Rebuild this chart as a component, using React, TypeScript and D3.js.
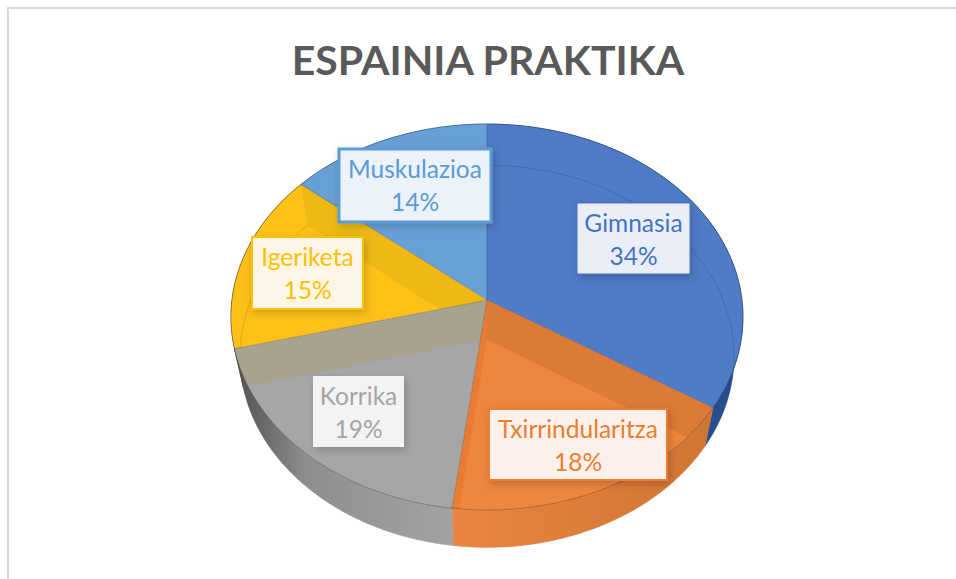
import React from "react";
import * as d3 from "d3";

const categories = ["Gimnasia", "Txirrindularitza", "Korrika", "Igeriketa", "Muskulazioa"];
const values = [34, 18, 19, 15, 14];
const faceColors = ["#507BC6", "#EE863E", "#A6A6A6", "#FDC118", "#67A0D7"];
const textColors = ["#4472C4", "#ED7D31", "#A5A5A5", "#FFC000", "#5B9BD5"];
const boxFills = ["#EAEFF7", "#FBF1EA", "#F3F3F3", "#FDF5E6", "#EBF2F9"];
const borderWidths = [1, 2, 0, 2, 3];
const labelBoxes = [
  [577, 203, 690, 274],
  [489, 409, 667, 480],
  [313, 376, 404, 447],
  [252, 237, 363, 309],
  [339, 149, 491, 222],
];
const wallStops = [
  ["#2F5B9F", "#264E8E"],
  ["#EC843F", "#CF7635"],
  ["#585858", "#A3A3A3"],
  ["#55534A", "#55534A"],
  ["#4A7FB5", "#4A7FB5"],
];
const titleText = "ESPAINIA PRAKTIKA";

const K = 0.088;
const topPlane = { x: 487, y: 300, r: 255, s: 191.5 };
const botPlane = { x: 487, y: 339.5, r: 246, s: 189.5 };

type Plane = typeof topPlane;
const project = (p: Plane, a: number, rho = 1): [number, number] => {
  const u = rho * Math.sin(a);
  const v = -rho * Math.cos(a);
  const w = 1 - K * v;
  return [p.x + (p.r * u) / w, p.y + (p.s * v) / w];
};
const arcPts = (p: Plane, a0: number, a1: number) =>
  d3.range(0, 81).map((i) => project(p, a0 + ((a1 - a0) * i) / 80));

const line = d3.line();
const slices = d3.pie<number>().sort(null).value((d) => d)(values);

export default function App() {
  return (
    <svg
      width={956}
      height={579}
      style={{ position: "fixed", left: 0, top: 0, background: "#fff" }}
      fontFamily="Lato, Carlito, sans-serif"
    >
      <defs>
        <filter id="sh" x="-20%" y="-20%" width="140%" height="150%">
          <feDropShadow dx="2" dy="3" stdDeviation="4" floodColor="#000" floodOpacity="0.2" />
        </filter>
        {slices.map((s, i) => (
          <clipPath id={`face${i}`} key={i}>
            <path d={`M${topPlane.x},${topPlane.y}L${arcPts(topPlane, s.startAngle, s.endAngle).join("L")}Z`} />
          </clipPath>
        ))}
        {slices.map((s, i) => {
          const xs = arcPts(botPlane, s.startAngle, s.endAngle).map((d) => d[0]);
          return (
            <linearGradient
              id={`wall${i}`}
              key={i}
              gradientUnits="userSpaceOnUse"
              x1={d3.min(xs)}
              x2={d3.max(xs)}
              y1={0}
              y2={0}
            >
              <stop offset="0" stopColor={wallStops[i][0]} />
              {i === 2 && <stop offset="0.3" stopColor="#8E8E8E" />}
              <stop offset="1" stopColor={wallStops[i][1]} />
            </linearGradient>
          );
        })}
      </defs>

      <path d="M8,579V8H956" fill="none" stroke="#D9D9D9" strokeWidth={2} />

      <text x={488} y={75} textAnchor="middle" fontSize={41} fontWeight={700} fill="#595959">
        {titleText}
      </text>

      {/* outer walls */}
      {slices.map((s, i) => {
        const pts = [
          ...arcPts(topPlane, s.startAngle, s.endAngle),
          ...arcPts(botPlane, s.startAngle, s.endAngle).reverse(),
        ] as [number, number][];
        return (
          <path key={i} d={line(pts) + "Z"} fill={`url(#wall${i})`} stroke={`url(#wall${i})`} strokeWidth={0.7} />
        );
      })}

      {/* top faces */}
      {slices.map((s, i) => (
        <path
          key={i}
          d={`M${topPlane.x},${topPlane.y}L${arcPts(topPlane, s.startAngle, s.endAngle).join("L")}Z`}
          fill={faceColors[i]}
        />
      ))}

      {/* inner cut walls seen through the translucent faces */}
      {[
        { face: 1, angle: slices[0].endAngle, fill: "#DC7A37" },
        { face: 1, angle: slices[1].endAngle, fill: "#E87C30" },
        { face: 2, angle: slices[2].endAngle, fill: "#A8A390" },
        { face: 3, angle: slices[3].endAngle, fill: "#EEB914" },
      ].map((w, i) => {
        const quad = [
          [topPlane.x, topPlane.y],
          project(topPlane, w.angle),
          project(botPlane, w.angle),
          [botPlane.x, botPlane.y],
        ] as [number, number][];
        return <path key={i} d={line(quad) + "Z"} fill={w.fill} clipPath={`url(#face${w.face})`} />;
      })}

      {/* bottom rim seen through */}
      {slices.map((s, i) => (
        <path
          key={i}
          d={line(arcPts(botPlane, s.startAngle, s.endAngle)) ?? ""}
          fill="none"
          stroke="#000"
          strokeOpacity={0.12}
          strokeWidth={1}
          clipPath={`url(#face${i})`}
        />
      ))}

      {/* rims and edges */}
      {slices.map((s, i) => (
        <path
          key={i}
          d={line(arcPts(topPlane, s.startAngle, s.endAngle)) ?? ""}
          fill="none"
          stroke="#000"
          strokeOpacity={0.25}
          strokeWidth={1}
        />
      ))}
      {slices.map((s, i) => {
        const e = project(topPlane, s.startAngle);
        return (
          <path
            key={i}
            d={`M${topPlane.x},${topPlane.y}L${e[0]},${e[1]}`}
            stroke="#000"
            strokeOpacity={0.18}
            strokeWidth={1}
          />
        );
      })}

      {/* data labels */}
      {categories.map((c, i) => {
        const [x0, y0, x1, y1] = labelBoxes[i];
        const cx = (x0 + x1) / 2;
        return (
          <g key={c}>
            <rect
              x={x0}
              y={y0}
              width={x1 - x0}
              height={y1 - y0}
              fill={boxFills[i]}
              stroke={textColors[i]}
              strokeWidth={borderWidths[i]}
              filter="url(#sh)"
            />
            <text x={cx} y={y0 + 29} textAnchor="middle" fontSize={24.5} fill={textColors[i]}>
              {c}
            </text>
            <text x={cx} y={y0 + 62} textAnchor="middle" fontSize={24.5} fill={textColors[i]}>
              {`${values[i]}%`}
            </text>
          </g>
        );
      })}
    </svg>
  );
}
